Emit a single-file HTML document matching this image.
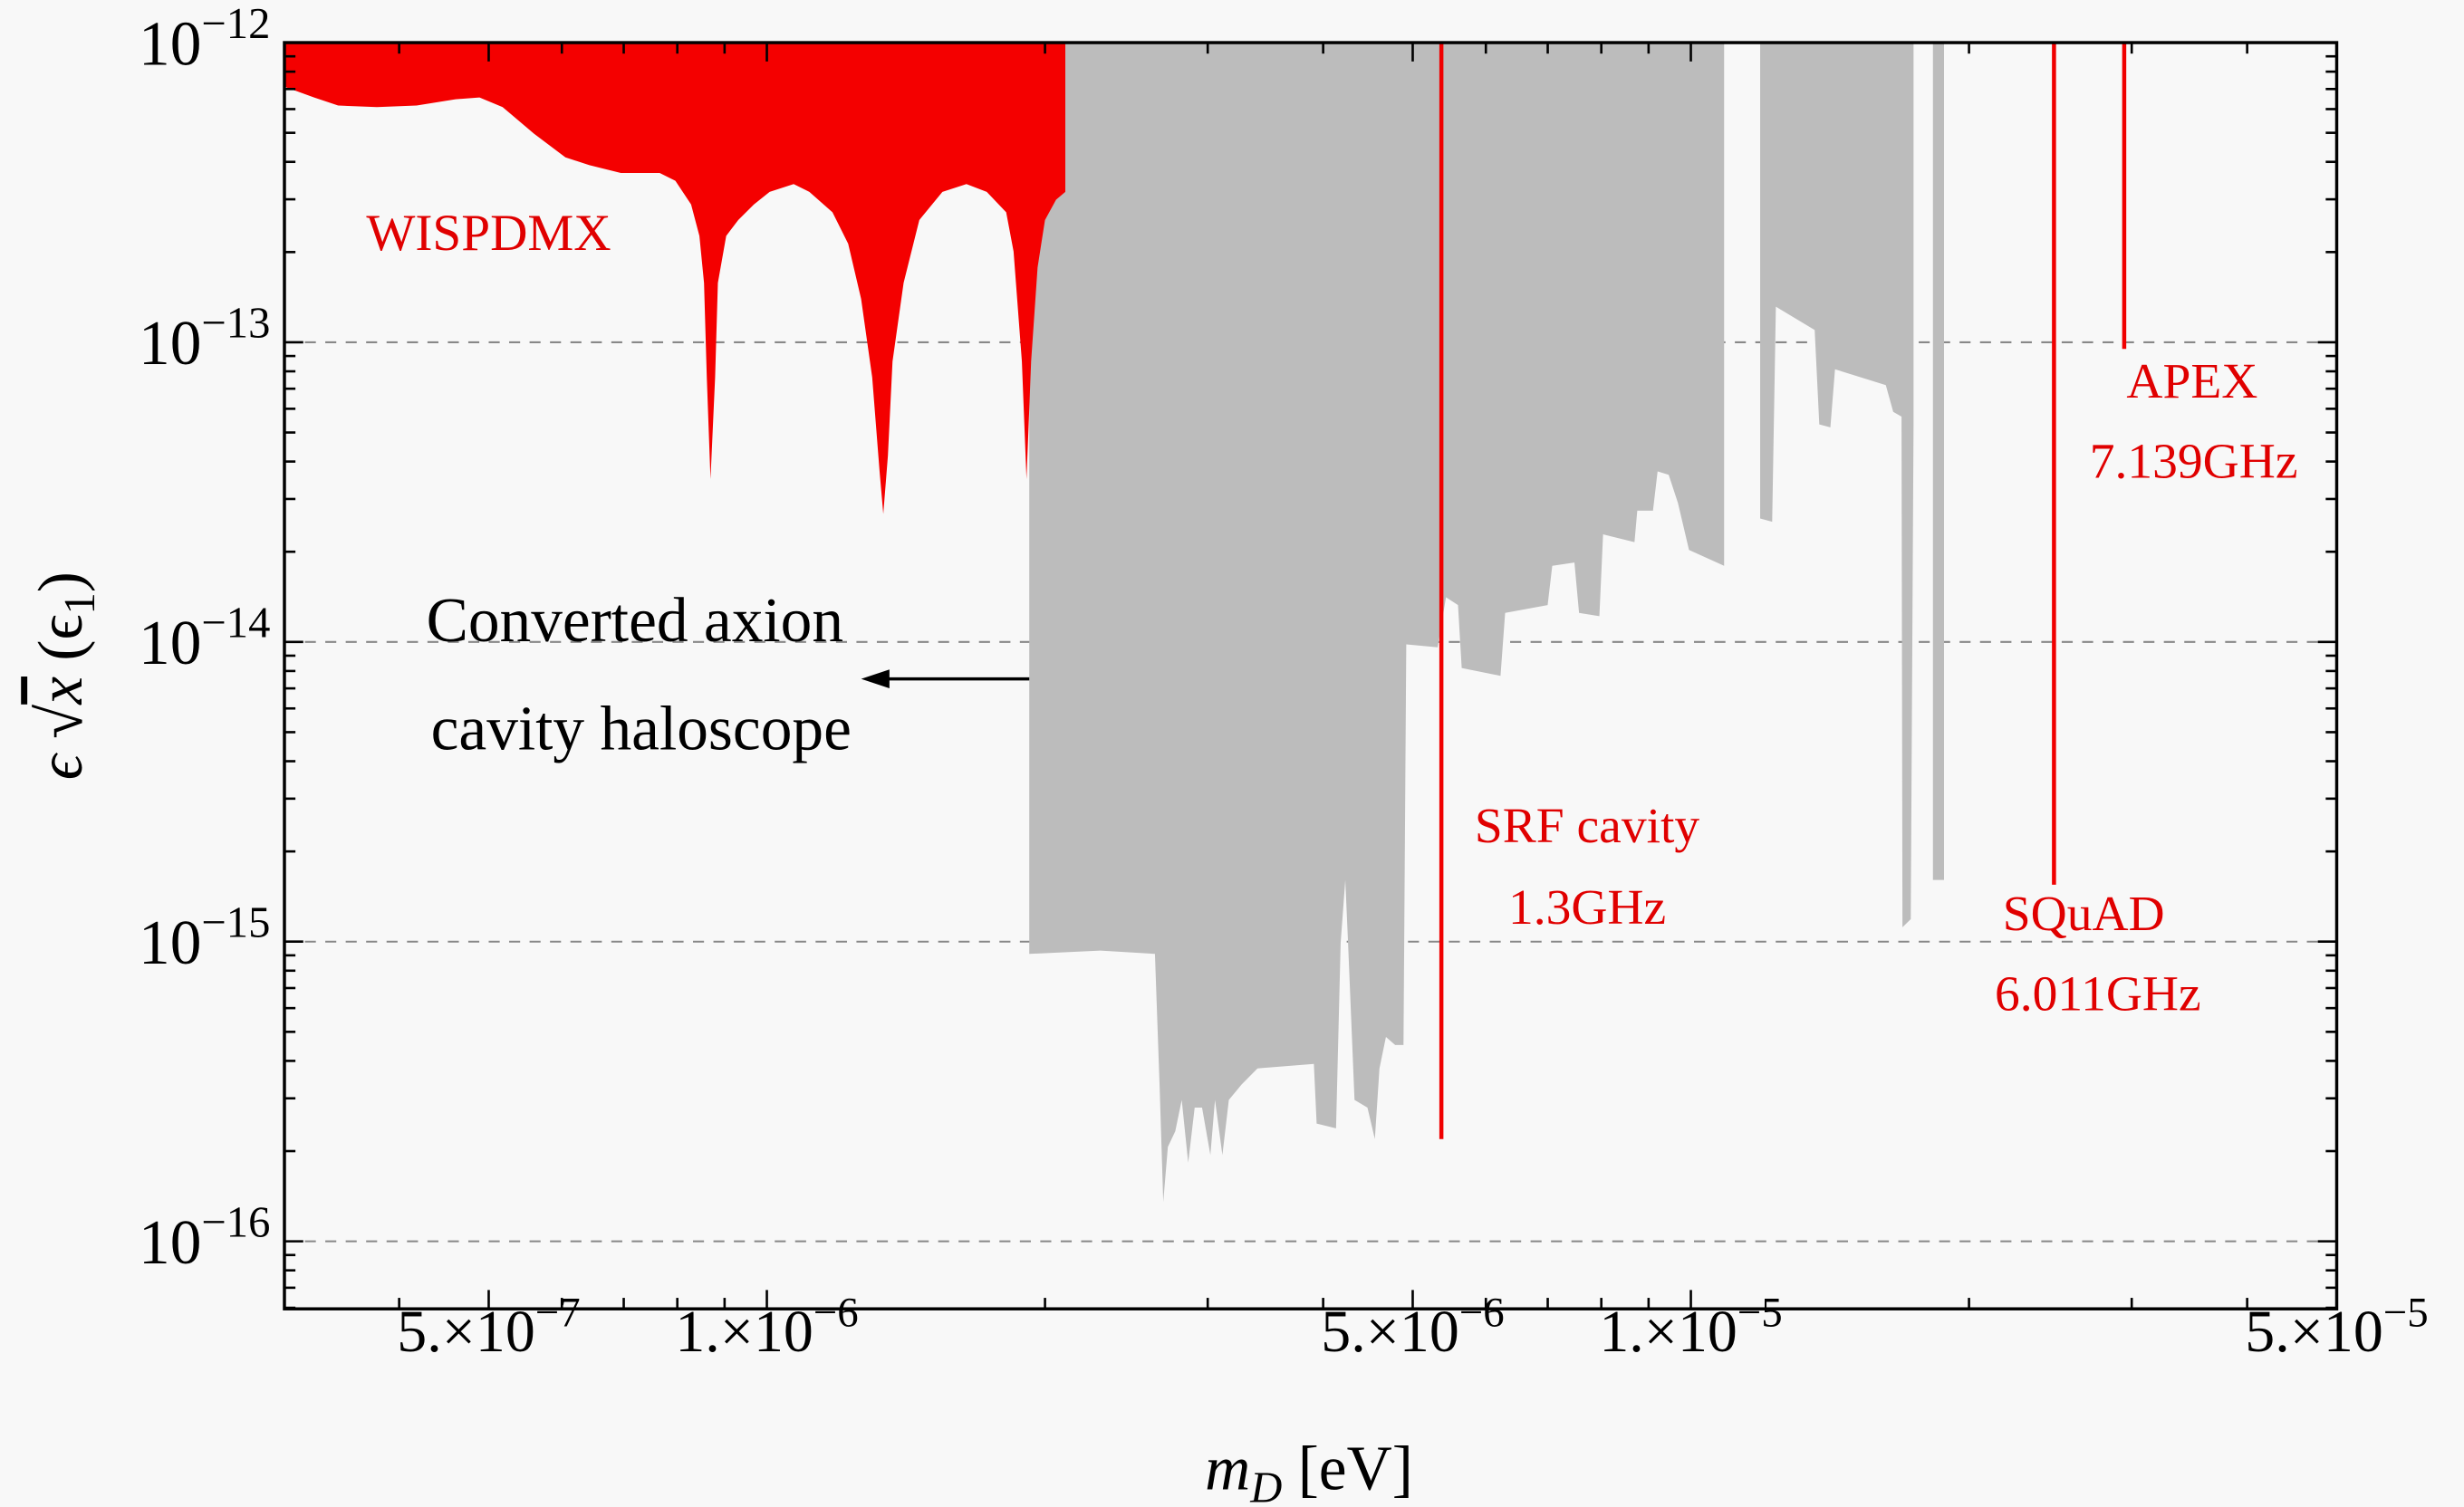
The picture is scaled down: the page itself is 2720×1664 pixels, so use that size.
<!DOCTYPE html>
<html><head><meta charset="utf-8"><style>
html,body{margin:0;padding:0;background:#f8f8f8;}
svg{display:block;font-family:"Liberation Serif",serif;}
</style></head><body>
<svg id="chart" width="2720" height="1664" viewBox="0 0 1568 959" xmlns="http://www.w3.org/2000/svg">
<rect x="0" y="0" width="1568" height="959" fill="#f8f8f8"/>
<g id="plot"></g>
</svg>
<script>
// log10 mass [eV] and log10 coupling for boundaries
const wispLogM = [-6.522,-6.490,-6.464,-6.422,-6.379,-6.337,-6.311,-6.286,-6.252,-6.218,-6.192,-6.158,-6.116,-6.099,-6.082,-6.073,-6.068,-6.065,-6.061,-6.056,-6.053,-6.044,-6.031,-6.014,-5.997,-5.971,-5.954,-5.929,-5.912,-5.898,-5.886,-5.878,-5.874,-5.869,-5.864,-5.852,-5.835,-5.810,-5.784,-5.762,-5.741,-5.733,-5.724,-5.719,-5.714,-5.707,-5.699,-5.687,-5.677];
const wispLogY = [-12.147,-12.183,-12.210,-12.215,-12.210,-12.189,-12.183,-12.215,-12.304,-12.383,-12.409,-12.435,-12.435,-12.461,-12.540,-12.645,-12.802,-13.117,-13.457,-13.117,-12.802,-12.645,-12.592,-12.540,-12.498,-12.472,-12.498,-12.566,-12.671,-12.855,-13.117,-13.431,-13.573,-13.379,-13.064,-12.802,-12.592,-12.498,-12.472,-12.498,-12.566,-12.697,-13.064,-13.457,-13.064,-12.750,-12.592,-12.524,-12.498];
const hal1LogM = [-5.716,-5.639,-5.580,-5.575,-5.571,-5.566,-5.558,-5.551,-5.544,-5.537,-5.529,-5.520,-5.515,-5.507,-5.500,-5.486,-5.469,-5.408,-5.405,-5.384,-5.379,-5.374,-5.371,-5.364,-5.350,-5.342,-5.337,-5.330,-5.320,-5.311,-5.308,-5.274,-5.265,-5.252,-5.248,-5.206,-5.201,-5.155,-5.150,-5.126,-5.121,-5.099,-5.095,-5.061,-5.058,-5.041,-5.036,-5.024,-5.014,-5.002,-4.964];
const hal1LogY = [-15.041,-15.030,-15.041,-15.476,-15.869,-15.685,-15.633,-15.528,-15.738,-15.554,-15.554,-15.712,-15.528,-15.712,-15.528,-15.476,-15.423,-15.408,-15.607,-15.623,-15.004,-14.794,-15.004,-15.528,-15.554,-15.659,-15.423,-15.318,-15.345,-15.345,-14.008,-14.018,-13.851,-13.877,-14.087,-14.113,-13.903,-13.877,-13.746,-13.735,-13.903,-13.914,-13.641,-13.667,-13.562,-13.562,-13.431,-13.442,-13.536,-13.693,-13.746];
const hal2LogM = [-4.925,-4.912,-4.908,-4.866,-4.861,-4.849,-4.844,-4.789,-4.781,-4.772,-4.771,-4.762,-4.759];
const hal2LogY = [-13.588,-13.599,-12.881,-12.959,-13.274,-13.284,-13.090,-13.143,-13.232,-13.248,-14.952,-14.925,-13.274];
const hal3LogM = [-4.738,-4.726];
const hal3LogY = [-14.794,-14.794];
const lineNames = ['srf-line','squad-line','apex-line'];
const lineLogM = [-5.270,-4.607,-4.531];
const lineLogY = [-15.659,-14.810,-13.022];
const yTickExp = [-12,-13,-14,-15,-16];
const xTickVals = [5e-7,1e-6,5e-6,1e-5,5e-5];
const xTickMant = ['5.','1.','5.','1.','5.'];
const xTickExp = ['-7','-6','-6','-5','-5'];

const L=181,R=1487,T=27,B=833;
const xs = lm => 488 + (lm + 6) * 588;
const ys = ly => 27 + (-12 - ly) * 190.75;
const NS='http://www.w3.org/2000/svg';
const g=document.getElementById('plot');
function mk(tag,attrs,parent){const e=document.createElementNS(NS,tag);for(const k in attrs)e.setAttribute(k,attrs[k]);(parent||g).appendChild(e);return e;}

// gridlines
yTickExp.slice(1).forEach(e=>{
  const l=mk('line',{x1:L,x2:R,y1:ys(e),y2:ys(e),stroke:'#888',"stroke-width":1.2,"stroke-dasharray":"7,6"});
  
  
});

function regionPath(ms,ys_,topClose){
  let d='M'+xs(ms[0])+','+T;
  for(let i=0;i<ms.length;i++) d+=' L'+xs(ms[i])+','+ys(ys_[i]);
  d+=' L'+xs(ms[ms.length-1])+','+T+' Z';
  return d;
}
const clip=mk('clipPath',{id:'pc'});mk('rect',{x:L,y:T,width:R-L,height:B-T},clip);
const rg=mk('g',{"clip-path":"url(#pc)"});
[[hal1LogM,hal1LogY,'haloscope-region-1'],[hal2LogM,hal2LogY,'haloscope-region-2'],[hal3LogM,hal3LogY,'haloscope-region-3']].forEach(a=>{
  const p=mk('path',{d:regionPath(a[0],a[1]),fill:'#bcbcbc'},rg);
  
  
});
{
  const p=mk('path',{d:regionPath(wispLogM,wispLogY),fill:'#f40000'},rg);
  
  
}
lineLogM.forEach((m,i)=>{
  const l=mk('line',{x1:xs(m),x2:xs(m),y1:T,y2:ys(lineLogY[i]),stroke:'#f00000',"stroke-width":2.6},rg);
  
  
});

// frame
{const f=mk('rect',{x:L,y:T,width:R-L,height:B-T,fill:'none',stroke:'#000',"stroke-width":2});
}

// y ticks
for(let e=-16.3;e<=-12;e+=1){}
for(let d=-17;d<=-13;d++){
  for(let k=1;k<=9;k++){
    const ly=d+Math.log10(k); if(ly<-16.23||ly>-12) continue;
    const len=k===1?12:7;
    [[L,L+len],[R,R-len]].forEach(p=>{const t=mk('line',{x1:p[0],x2:p[1],y1:ys(ly),y2:ys(ly),stroke:'#000',"stroke-width":1.5});
      });
  }
}
// x ticks
for(let d=-7;d<=-5;d++){
  for(let k=1;k<=9;k++){
    const lm=d+Math.log10(k); if(lm<-6.522||lm>-4.3) continue;
    const len=(k===1||k===5)?12:7;
    [[B,B-len],[T,T+len]].forEach(p=>{const t=mk('line',{x1:xs(lm),x2:xs(lm),y1:p[0],y2:p[1],stroke:'#000',"stroke-width":1.5});
      });
  }
}
// y labels
yTickExp.forEach(e=>{
  const t=mk('text',{x:172,y:ys(e)+14,"text-anchor":"end","font-size":40});
  
  t.textContent='10';
  const s=mk('tspan',{dy:-17,"font-size":28},t);s.textContent='\u2212'+(-e);
});
// x labels
xTickVals.forEach((v,i)=>{
  const t=mk('text',{x:xs(Math.log10(v)),y:860,"text-anchor":"middle","font-size":38});
  
  t.textContent=xTickMant[i]+'\u00d710';
  const s=mk('tspan',{dy:-16,"font-size":27},t);s.textContent='\u2212'+xTickExp[i].slice(1);
});
</script>
<g></g>
<script>
const svg=document.getElementById('chart');
function T2(x,y,txt,size,fill,name,anchor){const t=document.createElementNS('http://www.w3.org/2000/svg','text');
t.setAttribute('x',x);t.setAttribute('y',y);t.setAttribute('font-size',size);t.setAttribute('fill',fill);t.setAttribute('text-anchor',anchor||'middle');


t.textContent=txt;svg.appendChild(t);return t;}
T2(311,159,'WISPDMX',33,'#e00000','wispdmx-label');
T2(404,408,'Converted axion',40,'#000','haloscope-label-line1');
T2(408,477,'cavity haloscope',40,'#000','haloscope-label-line2');
T2(1010,536,'SRF cavity',32,'#e00000','srf-label');
T2(1010,588,'1.3GHz',32,'#e00000','srf-freq-label');
T2(1326,592,'SQuAD',32,'#e00000','squad-label');
T2(1335,643,'6.011GHz',32,'#e00000','squad-freq-label');
T2(1395,253,'APEX',32,'#e00000','apex-label');
T2(1396,304,'7.139GHz',32,'#e00000','apex-freq-label');
</script>
<svg style="position:absolute;left:0;top:0" width="2720" height="1664" viewBox="0 0 1568 959" xmlns="http://www.w3.org/2000/svg">
<line x1="655" y1="432" x2="560" y2="432" stroke="#000" stroke-width="2"/>
<polygon points="548,432 566,426 566,438" fill="#000"/>
<text x="833" y="948" text-anchor="middle" font-size="40" font-family="Liberation Serif,serif"><tspan font-style="italic">m</tspan><tspan font-style="italic" font-size="28" dy="8">D</tspan><tspan dy="-8"> [eV]</tspan></text>
<g transform="translate(52,430) rotate(-90)">
<text x="0" y="0" text-anchor="middle" font-size="40" font-family="Liberation Serif,serif"><tspan font-style="italic">ϵ</tspan> √<tspan font-style="italic" text-decoration="overline">x</tspan> (ϵ<tspan font-size="28" dy="8">1</tspan><tspan dy="-8">)</tspan></text>
</g>
</svg>
</body></html>
